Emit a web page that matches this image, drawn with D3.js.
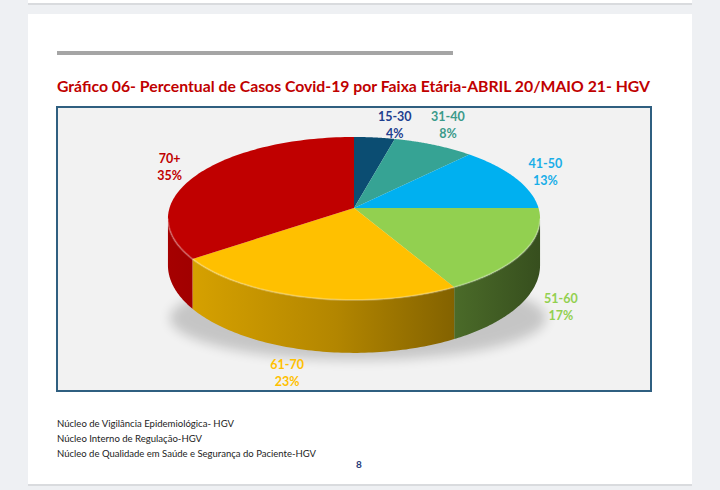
<!DOCTYPE html>
<html><head><meta charset="utf-8">
<script src="https://cdn.jsdelivr.net/npm/d3@7"></script>
<style>body{margin:0;background:#eef0f3;}svg{display:block;}</style>
</head><body>
<script>
// ---- data ----
const categories = ["15-30", "31-40", "41-50", "51-60", "61-70", "70+"];
const values = [4, 8, 13, 17, 23, 35];
const palette = ["#0b4d72", "#36a394", "#00b0f0", "#92d050", "#ffc000", "#c00000"];
const labelPalette = ["#1f3f8f", "#3a9a8a", "#19aee8", "#92d050", "#ffc000", "#c00000"];
const title = "Gráfico 06- Percentual de Casos Covid-19 por Faixa Etária-ABRIL 20/MAIO 21- HGV";
const footer = ["Núcleo de Vigilância Epidemiológica- HGV", "Núcleo Interno de Regulação-HGV", "Núcleo de Qualidade em Saúde e Segurança do Paciente-HGV"];
const footerWidths = [177, 145, 259];
const pageNumber = "8";

const W = 720, H = 490;
const svg = d3.select("body").append("svg").attr("width", W).attr("height", H);
const defs = svg.append("defs");

// page background
svg.append("rect").attr("width", W).attr("height", H).attr("fill", "#eef0f3");
svg.append("rect").attr("x", 28).attr("y", 0).attr("width", 664).attr("height", 3).attr("fill", "#ffffff");
svg.append("rect").attr("x", 28).attr("y", 3).attr("width", 664).attr("height", 2).attr("fill", "#d9dbde");
svg.append("rect").attr("x", 28).attr("y", 484).attr("width", 664).attr("height", 2).attr("fill", "#d9dbde");
svg.append("rect").attr("x", 28).attr("y", 14).attr("width", 664).attr("height", 470).attr("fill", "#ffffff");

// gray rule
svg.append("rect").attr("x", 57).attr("y", 51).attr("width", 396).attr("height", 4).attr("fill", "#a5a5a5");

// title
svg.append("text").attr("x", 57).attr("y", 92)
  .attr("font-family", "Lato, 'Open Sans', sans-serif").attr("font-weight", 700).attr("font-size", 16)
  .attr("fill", "#c00000").attr("textLength", 593).attr("lengthAdjust", "spacingAndGlyphs")
  .text(title);

// chart box
svg.append("rect").attr("x", 57).attr("y", 107).attr("width", 594).attr("height", 284)
  .attr("fill", "#f2f2f2").attr("stroke", "#2f5f80").attr("stroke-width", 2);

// ---- 3D pie ----
const cx = 354, cy = 208, R = 184.5, T = 80.2, p = 0.129, depth = 46;
function proj(theta, r = 1, down = 0) {
  const x = r * Math.sin(theta), z = -r * Math.cos(theta);
  const s = 1 / (1 - p * z);
  return [cx + R * x * s, cy + T * z * s + down * s, z, s];
}
const pie = d3.pie().sort(null).value(d => d)(values);
const color = d3.scaleOrdinal().domain(categories).range(palette);
const labelColor = d3.scaleOrdinal().domain(categories).range(labelPalette);

// shadow
const blur = defs.append("filter").attr("id", "blur").attr("x", "-20%").attr("y", "-50%").attr("width", "140%").attr("height", "200%");
blur.append("feGaussianBlur").attr("stdDeviation", 6);
svg.append("ellipse").attr("cx", cx + 4).attr("cy", 318).attr("rx", 188).attr("ry", 42)
  .attr("fill", "#000").attr("opacity", 0.18).attr("filter", "url(#blur)");

// side gradients
pie.forEach((d, i) => {
  const c = d3.color(color(categories[i]));
  const g = defs.append("linearGradient").attr("id", "side" + i)
    .attr("gradientUnits", "userSpaceOnUse").attr("x1", cx - R).attr("x2", cx + R).attr("y1", 0).attr("y2", 0);
  const f = (k) => d3.rgb(c.r * k, c.g * k, c.b * k);
  g.append("stop").attr("offset", 0).attr("stop-color", f(0.86));
  g.append("stop").attr("offset", 0.45).attr("stop-color", f(0.7));
  g.append("stop").attr("offset", 1).attr("stop-color", f(0.38));
});

const visA0 = Math.PI / 2 + Math.asin(p), visA1 = 3 * Math.PI / 2 - Math.asin(p);
const N = 80;
pie.forEach((d, i) => {
  const a0 = Math.max(d.startAngle, visA0), a1 = Math.min(d.endAngle, visA1);
  if (a1 <= a0) return;
  const top = d3.range(N + 1).map(k => proj(a0 + (a1 - a0) * k / N));
  const bot = d3.range(N + 1).map(k => proj(a0 + (a1 - a0) * k / N, 1, depth)).reverse();
  svg.append("path").attr("d", d3.line()(top.concat(bot).map(q => [q[0], q[1]])) + "Z")
    .attr("fill", `url(#side${i})`);
});

// top faces
pie.forEach((d, i) => {
  const pts = [[cx, cy]].concat(d3.range(N + 1).map(k => {
    const q = proj(d.startAngle + (d.endAngle - d.startAngle) * k / N);
    return [q[0], q[1]];
  }));
  svg.append("path").attr("d", d3.line()(pts) + "Z").attr("fill", color(categories[i]));
});
// bevel highlight on front rim
const rim = d3.range(N + 1).map(k => { const q = proj(visA0 + (visA1 - visA0) * k / N); return [q[0], q[1]]; });
svg.append("path").attr("d", d3.line()(rim)).attr("fill", "none").attr("stroke", "#ffffff").attr("stroke-opacity", 0.25).attr("stroke-width", 2);

// labels (outside end, best-fit-like placement)
const pieTop = proj(0)[1];
pie.forEach((d, i) => {
  const mid = (d.startAngle + d.endAngle) / 2;
  const q = proj(mid, 1.2);
  let x = q[0];
  let y = q[1] + depth * q[3] * Math.min(1, Math.max(0, q[2] * 1.5));
  if (q[2] < -0.8) {           // labels above the pie sit just above the rim
    y = pieTop - 12;
    if (d.endAngle - d.startAngle < 0.3) x = proj(d.endAngle)[0];
  }
  if (q[2] > 1) x -= 10;
  const g = svg.append("g").attr("font-family", "Lato, 'Open Sans', sans-serif").attr("font-weight", 700)
    .attr("font-size", 12.5).attr("fill", labelColor(categories[i])).attr("text-anchor", "middle");
  g.append("text").attr("x", x).attr("y", y - 4).text(categories[i]);
  g.append("text").attr("x", x).attr("y", y + 13).text(d3.format("d")(d.data) + "%");
});

// footer
footer.forEach((t, i) => {
  svg.append("text").attr("x", 57).attr("y", 427 + i * 15)
    .attr("font-family", "Lato, 'Open Sans', sans-serif").attr("font-size", 9.5).attr("fill", "#222")
    .attr("textLength", footerWidths[i]).attr("lengthAdjust", "spacingAndGlyphs").text(t);
});
svg.append("text").attr("x", 359).attr("y", 468).attr("text-anchor", "middle")
  .attr("font-family", "Lato, 'Open Sans', sans-serif").attr("font-weight", 700).attr("font-size", 10)
  .attr("fill", "#1f3a7a").text(pageNumber);
</script>
</body></html>
